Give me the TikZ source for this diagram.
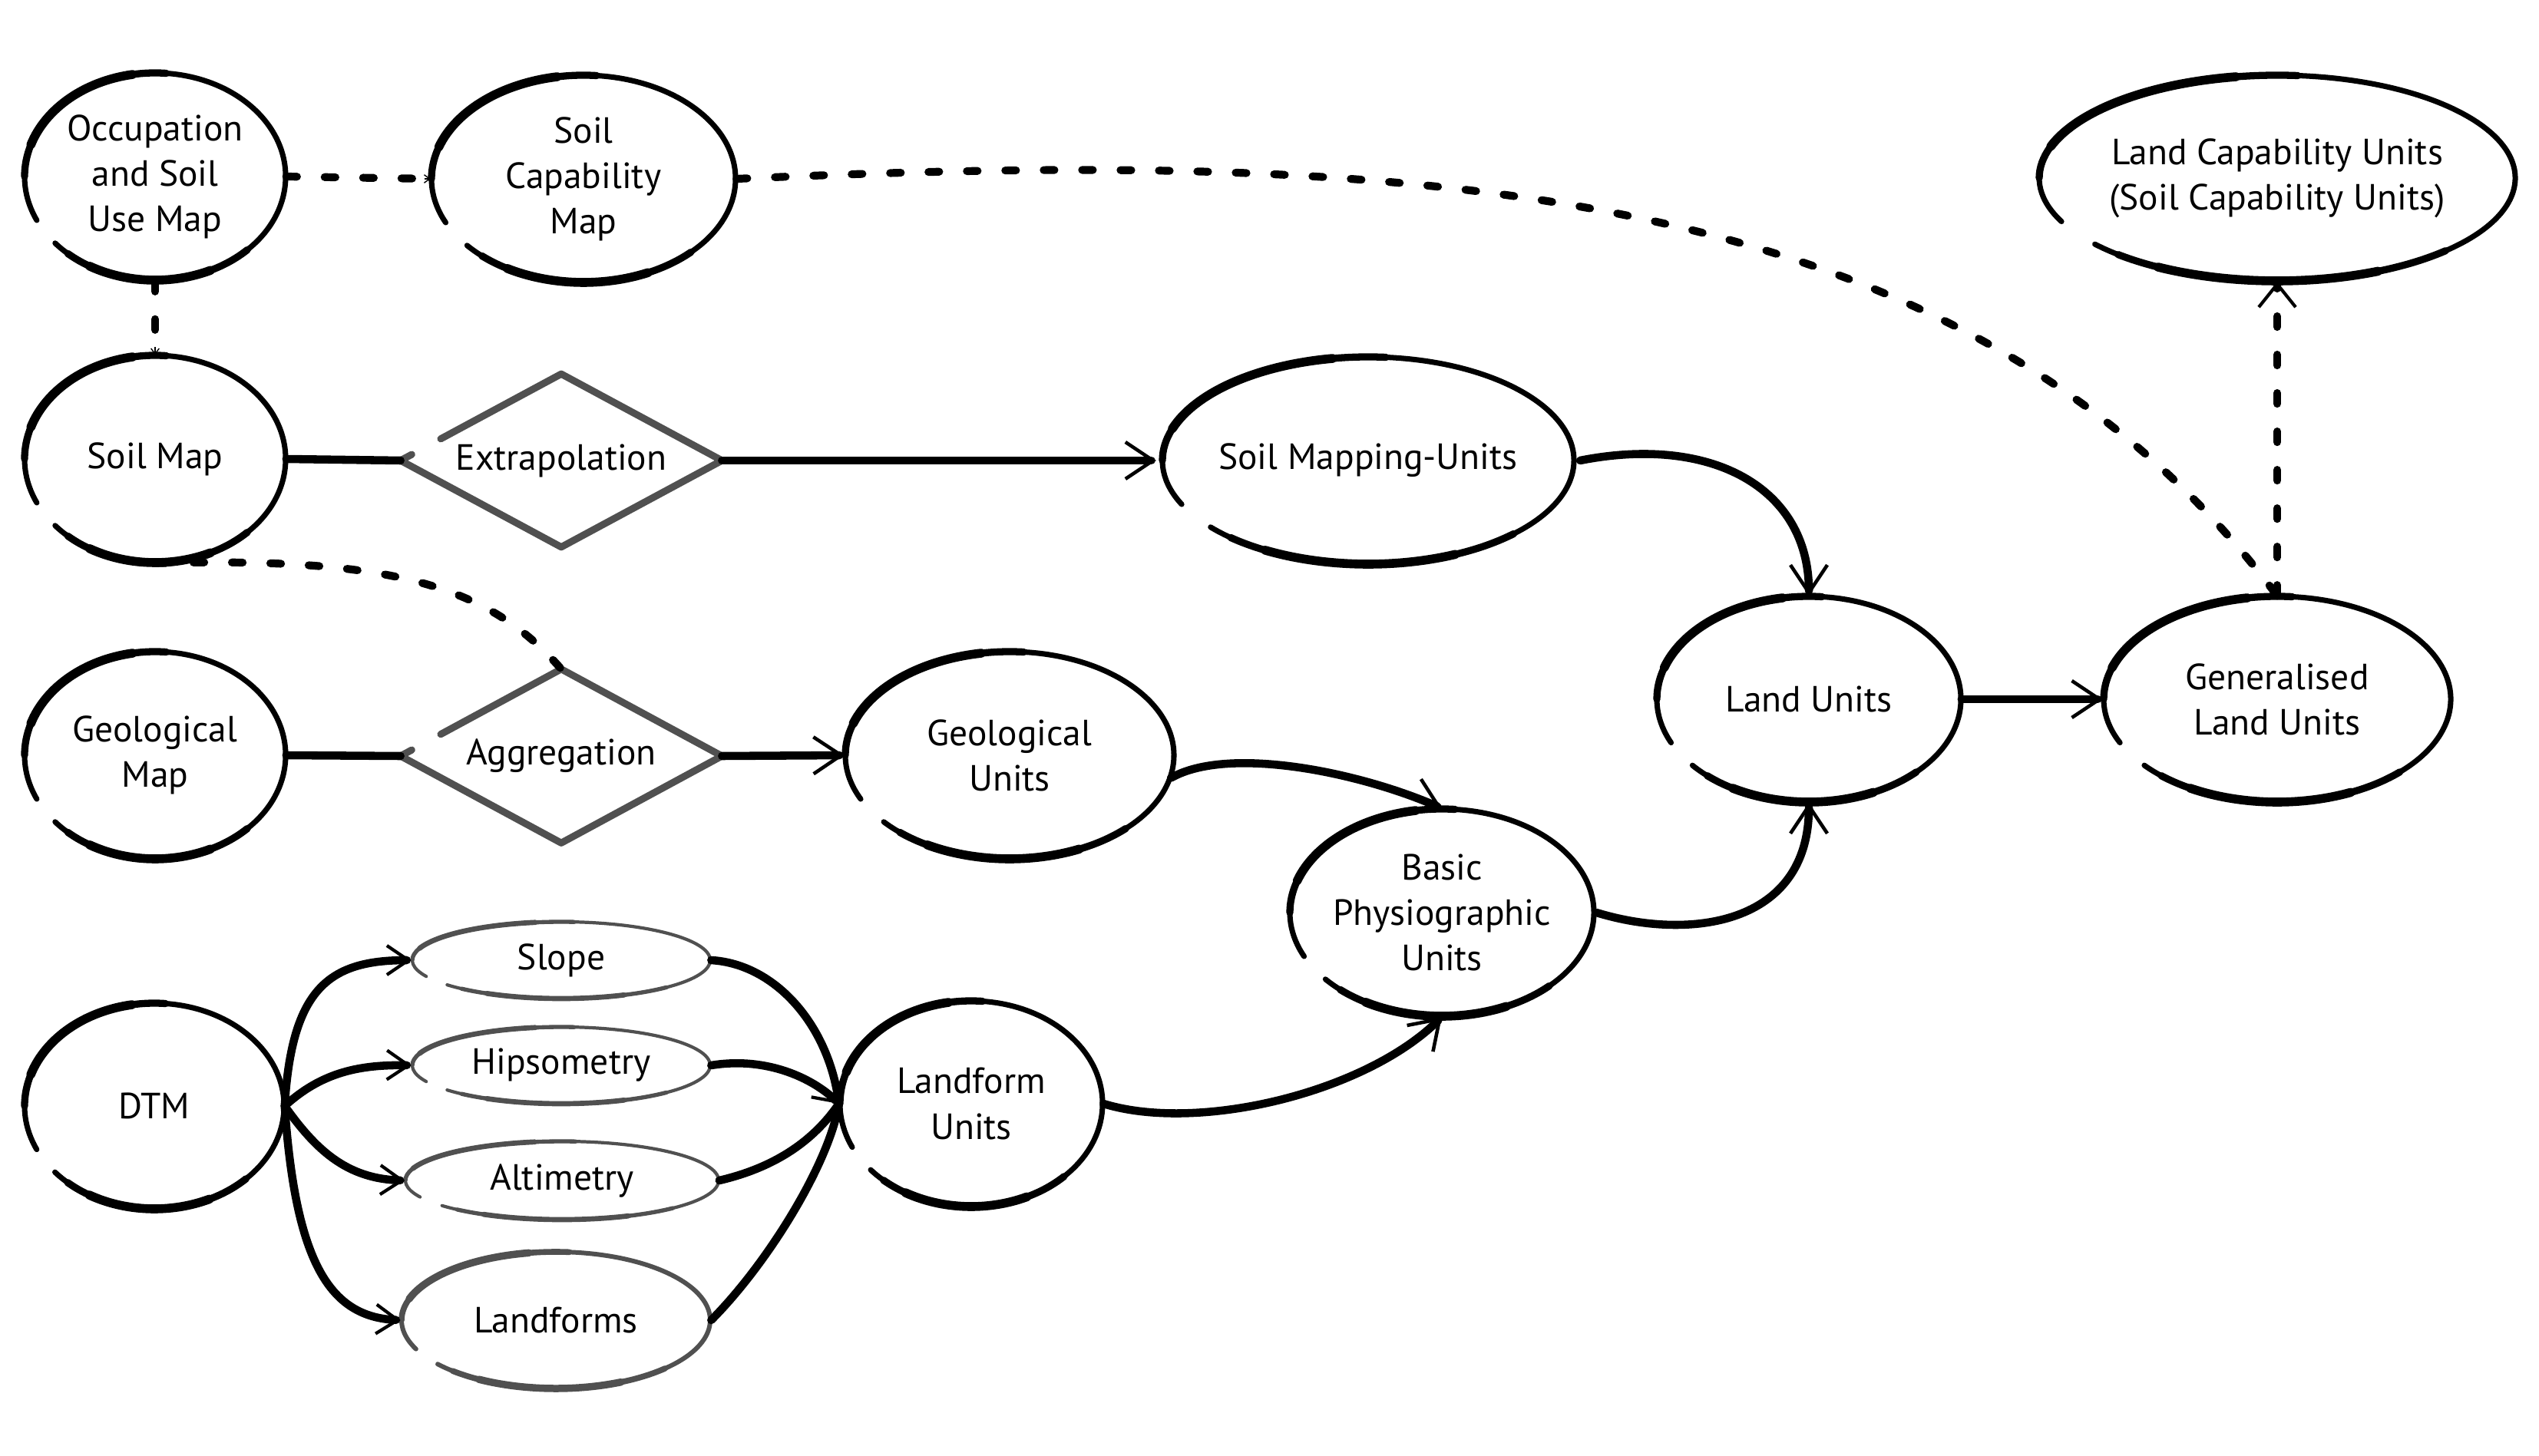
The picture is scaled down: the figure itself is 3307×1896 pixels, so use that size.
\documentclass[tikz,border=0pt]{standalone}
\usepackage{fontspec}
\setmainfont{PT Sans}
\usetikzlibrary{shapes.geometric,arrows.meta,calc}
\definecolor{grayline}{RGB}{80,80,80}
\newcommand\handell[5]{%
  \draw[#4] (#1.center) ++(220:#2 and #3) arc[start angle=220,end angle=565,x radius=#2,y radius=#3];
  \draw[#5, line width=0.8*\pgflinewidth] (#1.center) ++(85:#2 and #3) arc[start angle=85,end angle=180,x radius=#2,y radius=#3];
  \draw[#5] (#1.center) ++(100:#2 and #3) arc[start angle=100,end angle=162,x radius=#2,y radius=#3];
  \draw[#5, line width=0.8*\pgflinewidth] (#1.center) ++(228:#2 and #3) arc[start angle=228,end angle=315,x radius=#2,y radius=#3];
  \draw[#5] (#1.center) ++(240:#2 and #3) arc[start angle=240,end angle=295,x radius=#2,y radius=#3];
}
\newcommand\handdiam[1]{%
  \draw[diam] ($(#1.west)!0.07!(#1.north)$) -- (#1.west) -- (#1.south) -- (#1.east) -- (#1.north) -- ($(#1.north)!0.75!(#1.west)$);
}
\tikzset{
  every node/.style={font=\fontsize{13.5}{16.8}\selectfont, align=center, inner sep=0pt, text=black},
  elln/.style={ellipse, draw=none},
  dnode/.style={rectangle, draw=none},
  ellbase/.style={line width=2pt, line cap=round},
  ellthick/.style={line width=3.3pt, line cap=round},
  grbase/.style={grayline, line width=1.2pt, line cap=round},
  grthick/.style={grayline, line width=1.9pt, line cap=round},
  lfbase/.style={grayline, line width=1.7pt, line cap=round},
  lfthick/.style={grayline, line width=2.7pt, line cap=round},
  diam/.style={grayline, line width=2.6pt, line join=round, line cap=round},
  conn/.style={line width=3pt, line cap=round},
  arr/.style={conn, -{Straight Barb[length=0.36cm,width=0.48cm,line width=1.3pt]}},
  sarr/.style={conn, -{Straight Barb[length=0.28cm,width=0.38cm,line width=1.2pt]}},
  dashc/.style={line width=2.9pt, line cap=round, dash pattern=on 0.14cm off 0.36cm},
  tinytip/.style={-{Straight Barb[length=2pt,width=3pt,line width=0.4pt]}},
}
\begin{document}
\begin{tikzpicture}[x=0.01cm,y=0.01cm]
\fill[white] (0,0) rectangle (3307,1896);
\useasboundingbox (0,0) rectangle (3307,1896);

% nodes
\node[elln, minimum width=3.40cm, minimum height=2.70cm] (occ) at (202,1666) {Occupation\\and Soil\\Use Map};
\node[elln, minimum width=3.97cm, minimum height=2.70cm] (scm) at (760,1663) {Soil\\Capability\\Map};
\node[elln, minimum width=6.21cm, minimum height=2.68cm] (lcu) at (2966,1664) {Land Capability Units\\(Soil Capability Units)};
\node[elln, minimum width=3.40cm, minimum height=2.70cm] (soil) at (202,1298) {Soil Map};
\node[dnode, minimum width=4.17cm, minimum height=2.24cm] (extr) at (731,1296) {Extrapolation};
\node[elln, minimum width=5.37cm, minimum height=2.71cm] (smu) at (1782,1296) {Soil Mapping-Units};
\node[elln, minimum width=3.96cm, minimum height=2.68cm] (lu) at (2356,985) {Land Units};
\node[elln, minimum width=4.53cm, minimum height=2.68cm] (glu) at (2966,985) {Generalised\\Land Units};
\node[elln, minimum width=3.40cm, minimum height=2.70cm] (geo) at (202,912) {Geological\\Map};
\node[dnode, minimum width=4.17cm, minimum height=2.25cm] (agg) at (731,911) {Aggregation};
\node[elln, minimum width=4.29cm, minimum height=2.70cm] (geou) at (1315,912) {Geological\\Units};
\node[elln, minimum width=3.97cm, minimum height=2.70cm] (bpu) at (1878,707) {Basic\\Physiographic\\Units};
\node[elln, minimum width=3.38cm, minimum height=2.68cm] (dtm) at (201,455) {DTM};
\node[elln, minimum width=3.89cm, minimum height=1.00cm] (slope) at (731,645) {Slope};
\node[elln, minimum width=3.89cm, minimum height=1.00cm] (hips) at (731,508) {Hipsometry};
\node[elln, minimum width=4.08cm, minimum height=1.02cm] (alti) at (732,358) {Altimetry};
\node[elln, minimum width=4.03cm, minimum height=1.79cm] (lfs) at (724,176) {Landforms};
\node[elln, minimum width=3.43cm, minimum height=2.69cm] (lfu) at (1265,458) {Landform\\Units};

% outlines
\handell{occ}{170}{135}{ellbase}{ellthick}
\handell{scm}{198}{135}{ellbase}{ellthick}
\handell{lcu}{310}{134}{ellbase}{ellthick}
\handell{soil}{170}{135}{ellbase}{ellthick}
\handell{smu}{268}{135}{ellbase}{ellthick}
\handell{lu}{198}{134}{ellbase}{ellthick}
\handell{glu}{226}{134}{ellbase}{ellthick}
\handell{geo}{170}{135}{ellbase}{ellthick}
\handell{geou}{214}{135}{ellbase}{ellthick}
\handell{bpu}{198}{135}{ellbase}{ellthick}
\handell{dtm}{169}{134}{ellbase}{ellthick}
\handell{lfu}{171}{134}{ellbase}{ellthick}
\handell{slope}{194}{50}{grbase}{grthick}
\handell{hips}{194}{50}{grbase}{grthick}
\handell{alti}{204}{51}{grbase}{grthick}
\handell{lfs}{201}{89}{lfbase}{lfthick}
\handdiam{extr}
\handdiam{agg}

% dashed links
\draw[dashc] (occ.east) -- (scm.west);
\draw[tinytip] ($(scm.west)+(-8,0)$) coordinate (t1) -- (scm.west);
\draw[dashc] (occ.south) -- ($(soil.north)+(0,25)$) coordinate (t2);
\draw[tinytip] ($(soil.north)+(0,10)$) -- (soil.north);
\draw[dashc] (scm.east) .. controls (1800,1700) and (2546,1679) .. (glu.north);
\draw[dashc] (soil.south) .. controls (502,1170) and (633,1137) .. (agg.north);
\draw[dashc, -{Straight Barb[length=0.3cm,width=0.48cm,line width=1.2pt]}] (glu.north) -- (lcu.south);

% solid links
\draw[conn] (soil.east) -- (extr.west);
\draw[arr] (extr.east) -- (smu.west);
\draw[conn] (geo.east) -- (agg.west);
\draw[arr] (agg.east) -- (geou.west);
\draw[arr] (smu.east) .. controls (2230,1330) and (2356,1260) .. (lu.north);
\draw[arr] (geou.-8) .. controls (1600,925) and (1770,890) .. (bpu.north);
\draw[arr] (bpu.east) .. controls (2200,670) and (2356,690) .. (lu.south);
\draw[arr] (lu.east) -- (glu.west);
\draw[arr] (lfu.east) .. controls (1560,420) and (1778,472) .. (bpu.south);

% DTM branches
\draw[sarr] (dtm.east) .. controls (380,610) and (430,645) .. (slope.west);
\draw[sarr] (dtm.east) .. controls (420,500) and (470,509) .. (hips.west);
\draw[sarr] (dtm.east) .. controls (410,400) and (450,360) .. (alti.west);
\draw[sarr] (dtm.east) .. controls (385,250) and (430,180) .. (lfs.west);

% into Landform Units
\draw[conn] (slope.east) .. controls (1010,640) and (1080,560) .. (lfu.west);
\draw[sarr] (hips.east) .. controls (1000,520) and (1060,490) .. (lfu.west);
\draw[conn] (alti.east) .. controls (1010,375) and (1060,410) .. (lfu.west);
\draw[conn] (lfs.east) .. controls (1000,250) and (1080,380) .. (lfu.west);
\end{tikzpicture}
\end{document}
